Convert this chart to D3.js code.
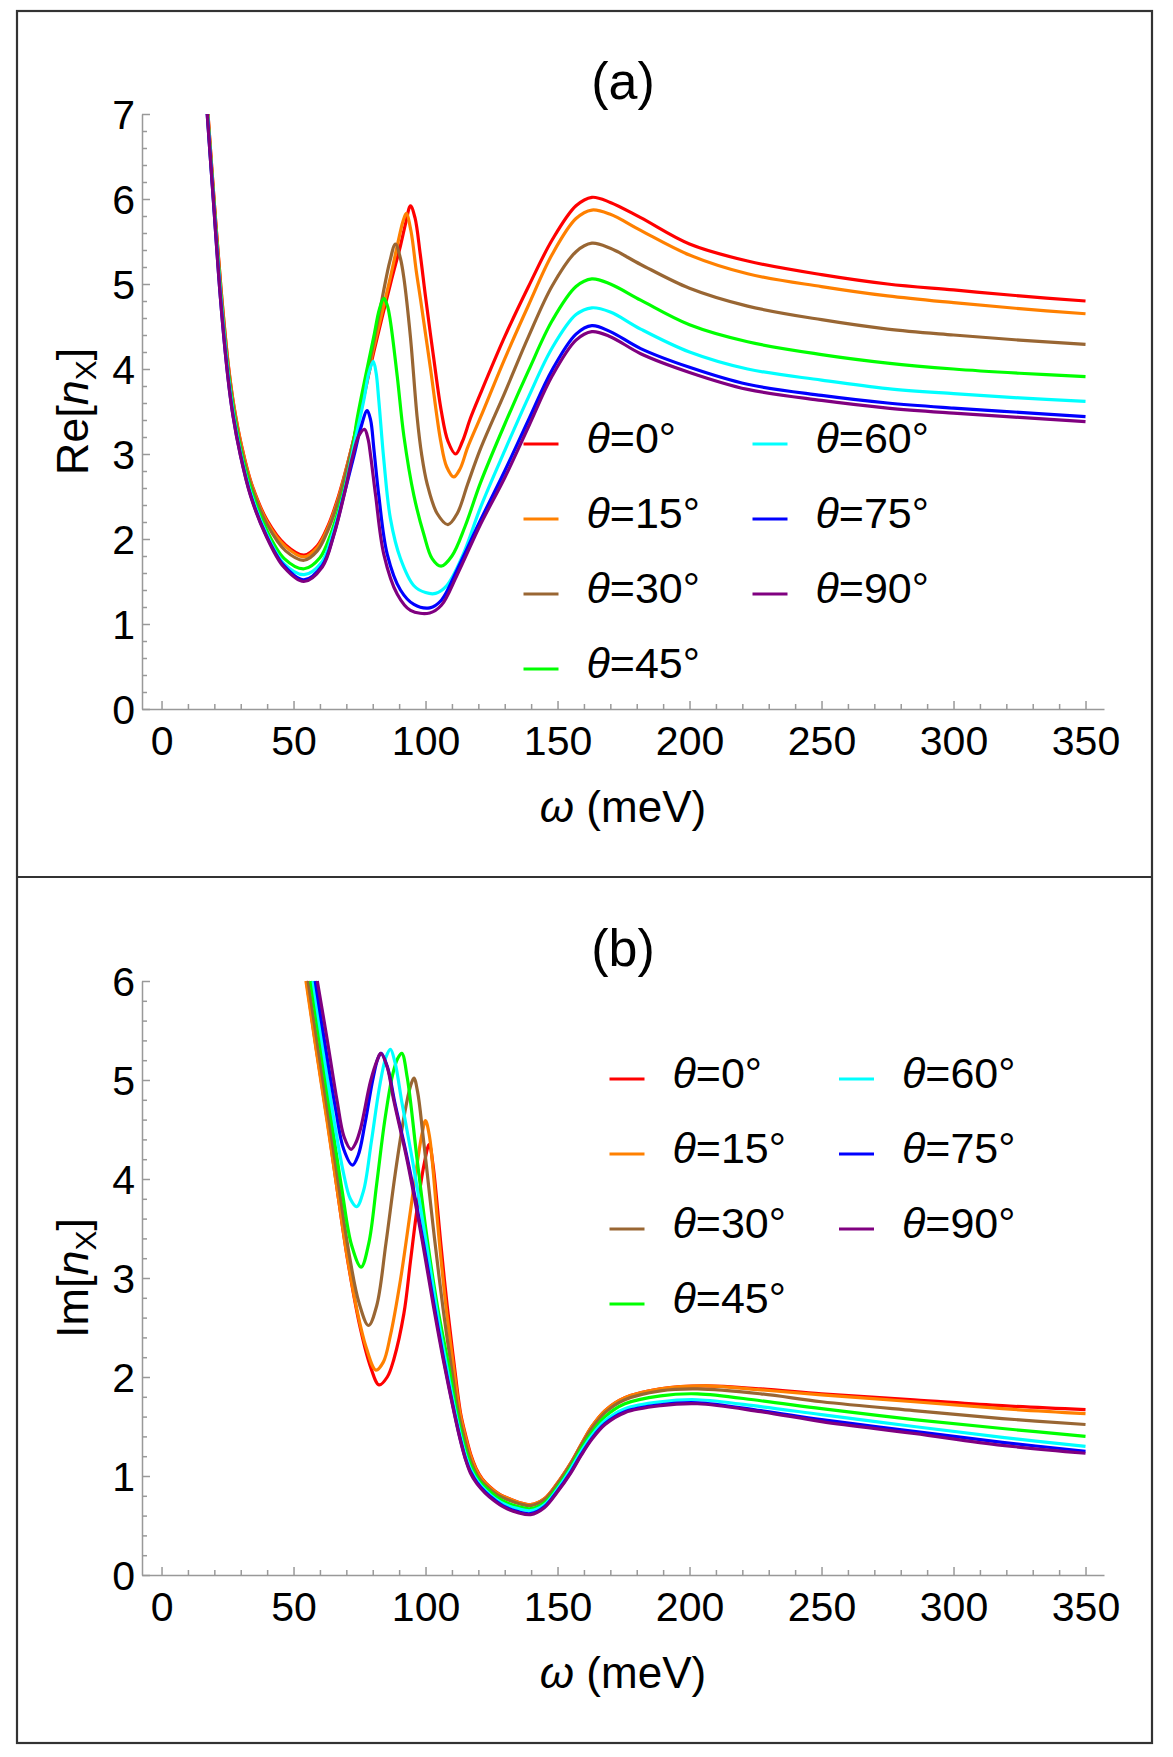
<!DOCTYPE html>
<html>
<head>
<meta charset="utf-8">
<script src="https://cdn.jsdelivr.net/npm/d3@7"></script>
<style>
  body { margin: 0; background: #fff; }
  svg text { font-family: "Liberation Sans", Arial, sans-serif; fill: #000; }
</style>
</head>
<body>
<svg id="chart" width="1173" height="1757"></svg>
<script>
// legend labels (angle θ)
const angles = ["0", "15", "30", "45", "60", "75", "90"];
const xTicks = [0, 50, 100, 150, 200, 250, 300, 350];
const reTicks = [0, 1, 2, 3, 4, 5, 6, 7];
const imTicks = [0, 1, 2, 3, 4, 5, 6];

// Re[n_X] : [ω (meV), value]
const reTheta0 = [[17.6,7],[20,5.95],[22.6,4.92],[25.4,4.02],[27.5,3.55],[30.3,3.1],[34,2.66],[40,2.22],[47,1.93],[54,1.81],[59,1.92],[63,2.15],[67,2.5],[71,2.95],[75,3.45],[80.4,4.2],[86.7,5.0],[90.5,5.45],[92.5,5.72],[94.3,5.92],[96,5.78],[98,5.35],[100,4.85],[103,4.15],[106,3.5],[108.5,3.15],[111.4,3.0],[114,3.15],[117,3.42],[120.8,3.71],[130,4.38],[139,4.97],[148,5.52],[157,5.92],[163,6.02],[170,5.96],[181.5,5.78],[200,5.47],[222,5.27],[250,5.11],[275,5.0],[300,4.93],[325,4.86],[350,4.8]];
const reTheta15 = [[17.6,7],[20,5.95],[22.6,4.91],[25.4,4.01],[27.5,3.54],[30.3,3.09],[34,2.65],[40,2.2],[47,1.91],[54,1.79],[59,1.9],[63,2.13],[67,2.48],[71,2.95],[75,3.47],[80.4,4.25],[86.7,5.08],[89.5,5.48],[91.5,5.74],[92.7,5.83],[94.5,5.62],[96.5,5.15],[98.1,4.82],[101.9,4.0],[105.7,3.16],[108,2.85],[110.7,2.73],[113,2.82],[116,3.08],[120.8,3.43],[130,4.12],[139,4.75],[148,5.35],[157,5.77],[163,5.87],[170,5.82],[181.5,5.63],[200,5.34],[222,5.12],[250,4.97],[275,4.86],[300,4.78],[325,4.71],[350,4.65]];
const reTheta30 = [[17.5,7],[19.9,5.95],[22.5,4.9],[25.3,4.0],[27.4,3.52],[30.2,3.06],[34,2.62],[40,2.17],[47,1.86],[54,1.75],[59,1.86],[63,2.1],[67,2.45],[71,2.93],[74.5,3.42],[80.4,4.32],[84,4.9],[86.5,5.27],[88.6,5.47],[90.5,5.3],[91.8,5.07],[94.3,4.37],[96.8,3.44],[98.5,3.0],[100.6,2.65],[104.4,2.3],[108.5,2.17],[112,2.3],[116,2.65],[120.8,3.06],[130,3.72],[139,4.38],[148,4.98],[157,5.38],[163,5.48],[170,5.42],[181.5,5.23],[200,4.95],[222,4.74],[250,4.58],[275,4.47],[300,4.4],[325,4.34],[350,4.29]];
const reTheta45 = [[17.4,7],[19.8,5.97],[22.4,4.88],[25.2,3.97],[27.3,3.5],[30.1,3.03],[33.9,2.58],[39.6,2.12],[46.5,1.77],[54,1.65],[60,1.78],[64,2.05],[68,2.45],[72,2.98],[74,3.4],[77.5,3.95],[80.4,4.38],[82.5,4.7],[84.2,4.83],[85.5,4.75],[86.7,4.56],[89.3,3.91],[91.8,3.21],[95.6,2.51],[99.4,2.05],[102.5,1.77],[105.9,1.68],[110,1.8],[115,2.15],[120.8,2.66],[130,3.35],[139,3.98],[148,4.57],[157,4.97],[163,5.06],[170,5.0],[181.5,4.81],[200,4.52],[222,4.32],[250,4.17],[275,4.07],[300,4.0],[325,3.95],[350,3.91]];
const reTheta60 = [[17.4,7],[19.7,5.98],[22.4,4.86],[25.2,3.94],[27.2,3.47],[30,3.0],[33.8,2.54],[39.5,2.08],[46.4,1.71],[54,1.58],[60.5,1.72],[65,2.08],[69,2.53],[72.9,3.1],[76.6,3.63],[78.5,3.95],[80.2,4.09],[81.3,3.95],[82.3,3.63],[84.2,2.93],[86.7,2.24],[90.5,1.77],[95.6,1.45],[100,1.37],[103.8,1.36],[108,1.45],[114,1.8],[120.8,2.37],[130,3.04],[139,3.67],[148,4.25],[157,4.64],[163,4.72],[170,4.67],[181.5,4.47],[200,4.2],[222,4.0],[250,3.87],[275,3.77],[300,3.71],[325,3.66],[350,3.62]];
const reTheta75 = [[17.3,7],[19.6,6.0],[22.3,4.84],[25.1,3.92],[27.1,3.45],[29.9,2.99],[33.7,2.52],[39.4,2.06],[46.3,1.69],[53.9,1.52],[60.9,1.69],[65.3,2.06],[69.1,2.52],[72.9,2.98],[75.4,3.3],[77.9,3.51],[79.2,3.4],[80.4,3.07],[82.3,2.51],[85.5,1.82],[90.5,1.4],[95.6,1.23],[101.6,1.19],[106,1.28],[112,1.64],[120.8,2.22],[130,2.8],[139,3.4],[148,3.99],[157,4.41],[163,4.51],[170,4.44],[181.5,4.24],[200,4.02],[222,3.82],[250,3.69],[275,3.6],[300,3.54],[325,3.49],[350,3.44]];
const reTheta90 = [[17.3,7],[19.6,6.0],[22.3,4.84],[25.1,3.91],[27.1,3.44],[29.9,2.98],[33.7,2.51],[39.4,2.05],[46.3,1.67],[53.9,1.5],[60.9,1.67],[65.3,2.05],[69.1,2.51],[72.2,2.95],[74.8,3.22],[76.9,3.29],[78.2,3.18],[79.2,2.98],[81.1,2.51],[84.2,1.82],[89.3,1.35],[94.3,1.16],[101.6,1.13],[106,1.22],[112,1.58],[120.8,2.17],[130,2.72],[139,3.32],[148,3.92],[157,4.34],[163,4.44],[170,4.38],[181.5,4.18],[200,3.96],[222,3.76],[250,3.63],[275,3.54],[300,3.48],[325,3.43],[350,3.38]];

// Im[n_X] : [ω (meV), value]
const imTheta0 = [[54.9,6.0],[58.7,5.3],[62.8,4.59],[66.6,3.88],[70.5,3.18],[75.4,2.48],[79.2,2.1],[82.4,1.92],[85.5,2.0],[88,2.18],[91.8,2.64],[94.3,3.17],[96.8,3.7],[99.4,4.14],[101.4,4.35],[102.8,4.15],[104.2,3.8],[105.7,3.37],[108.2,2.72],[110.7,2.16],[113.3,1.63],[115.2,1.41],[117.1,1.22],[119.1,1.08],[121.5,0.97],[124.4,0.89],[127.8,0.82],[131.8,0.77],[135.8,0.73],[139.8,0.71],[145,0.77],[150,0.93],[155,1.13],[159,1.32],[163,1.5],[168,1.66],[175.5,1.79],[189,1.88],[206,1.91],[227,1.88],[250,1.83],[285,1.77],[318.5,1.71],[350,1.67]];
const imTheta15 = [[54.7,6.0],[58.6,5.3],[62.6,4.6],[66.5,3.9],[70.3,3.22],[74,2.68],[77.5,2.3],[81.2,2.07],[84,2.15],[86.7,2.42],[90.5,2.98],[94.3,3.68],[96.8,4.15],[98.7,4.46],[100,4.59],[101.5,4.43],[103,4.05],[105.1,3.4],[107.8,2.7],[110.4,2.15],[113.1,1.63],[115,1.41],[116.9,1.22],[118.9,1.08],[121.3,0.97],[124.2,0.89],[127.6,0.82],[131.6,0.77],[135.7,0.73],[139.8,0.71],[145,0.77],[150,0.93],[155,1.13],[159,1.32],[163,1.5],[168,1.66],[175.5,1.79],[189,1.88],[206,1.91],[227,1.87],[250,1.82],[285,1.75],[318.5,1.68],[350,1.63]];
const imTheta30 = [[55.5,6.0],[59.4,5.3],[63.4,4.6],[67.3,3.9],[71.2,3.22],[74.8,2.75],[78.4,2.52],[81.5,2.72],[85,3.35],[88.5,4.05],[92,4.65],[94.2,4.93],[95.6,5.02],[97,4.88],[99,4.45],[101.5,3.85],[103.4,3.4],[106.6,2.7],[109.5,2.15],[112.5,1.63],[114.5,1.4],[116.4,1.21],[118.4,1.07],[120.8,0.96],[123.8,0.88],[127.2,0.81],[131.2,0.76],[135.5,0.72],[139.8,0.7],[145,0.76],[150,0.92],[155,1.12],[159,1.31],[163,1.48],[168,1.64],[175.5,1.77],[189,1.86],[203,1.88],[227,1.83],[250,1.75],[285,1.66],[318.5,1.58],[350,1.52]];
const imTheta45 = [[56.5,6.0],[60.3,5.32],[64.3,4.6],[68.3,3.9],[72,3.33],[75.6,3.11],[78.5,3.35],[81.5,3.95],[84.5,4.58],[87.5,5.05],[89.5,5.22],[91,5.27],[93.1,5.02],[96.8,4.2],[100.6,3.4],[104.6,2.7],[108.5,2.15],[111.9,1.63],[113.9,1.39],[115.9,1.2],[117.9,1.06],[120.4,0.95],[123.3,0.87],[126.8,0.79],[130.8,0.73],[135.3,0.69],[139.8,0.67],[145,0.73],[150,0.89],[155,1.09],[159,1.28],[163,1.44],[168,1.6],[175.5,1.73],[189,1.81],[203,1.83],[227,1.76],[250,1.68],[285,1.57],[318.5,1.48],[350,1.4]];
const imTheta60 = [[57.4,6.0],[61,5.35],[65,4.65],[69,4.05],[71.5,3.8],[73.9,3.72],[76.5,3.88],[79.5,4.38],[82.5,4.92],[85,5.23],[86.7,5.31],[88.5,5.17],[91,4.78],[95.5,4.12],[100,3.4],[104.1,2.7],[107.7,2.15],[111.4,1.63],[113.4,1.39],[115.4,1.19],[117.4,1.05],[119.9,0.94],[122.9,0.85],[126.4,0.77],[130.4,0.71],[135,0.67],[139.8,0.65],[145,0.71],[150,0.87],[155,1.07],[159,1.25],[163,1.41],[168,1.56],[175.5,1.68],[189,1.75],[203,1.77],[227,1.7],[250,1.62],[285,1.5],[318.5,1.39],[350,1.3]];
const imTheta75 = [[58.2,6.0],[62,5.35],[66,4.7],[69,4.3],[72.3,4.14],[74.5,4.24],[77,4.55],[80,5.0],[82,5.22],[83.2,5.27],[85.7,5.12],[88.3,4.78],[93.4,4.17],[98.9,3.4],[103.4,2.7],[107.1,2.15],[111,1.63],[113.1,1.38],[115.1,1.18],[117.1,1.04],[119.6,0.93],[122.6,0.84],[126.1,0.76],[130,0.69],[135,0.64],[139.8,0.62],[145,0.69],[150,0.85],[155,1.04],[159,1.22],[163,1.38],[168,1.53],[175.5,1.65],[189,1.72],[203,1.74],[227,1.66],[250,1.57],[285,1.45],[318.5,1.34],[350,1.25]];
const imTheta90 = [[59,6.0],[62.8,5.4],[66.5,4.79],[69.1,4.43],[71.8,4.3],[73.5,4.36],[75.4,4.51],[79.2,4.99],[81.7,5.2],[83,5.27],[85.5,5.13],[88,4.79],[93.1,4.18],[98.6,3.4],[103.1,2.7],[106.9,2.15],[110.9,1.63],[113,1.38],[115,1.18],[117,1.03],[119.5,0.92],[122.5,0.83],[126,0.75],[130,0.68],[135,0.63],[139.8,0.61],[145,0.68],[150,0.84],[155,1.03],[159,1.21],[163,1.37],[168,1.52],[175.5,1.64],[189,1.71],[203,1.73],[227,1.65],[250,1.55],[285,1.43],[318.5,1.31],[350,1.23]];

const reSeries = [reTheta0, reTheta15, reTheta30, reTheta45, reTheta60, reTheta75, reTheta90];
const imSeries = [imTheta0, imTheta15, imTheta30, imTheta45, imTheta60, imTheta75, imTheta90];

// Mathematica-style colours: Red, Orange, Brown, Green, Cyan, Blue, Purple
const colors = ["#ff0000", "#ff8000", "#996633", "#00ff00", "#00ffff", "#0000ff", "#800080"];

const svg = d3.select("#chart");

// outer frame + divider
svg.append("rect")
  .attr("x", 17).attr("y", 11).attr("width", 1135).attr("height", 1732)
  .attr("fill", "none").attr("stroke", "#333").attr("stroke-width", 2.2);
svg.append("line")
  .attr("x1", 17).attr("x2", 1152).attr("y1", 877).attr("y2", 877)
  .attr("stroke", "#333").attr("stroke-width", 2.2);

function drawPanel(p) {
  const x = d3.scaleLinear().domain([-7.4, 357]).range([142, 1104]);
  const y = d3.scaleLinear().domain([0, p.yMax]).range([p.bottom, p.top]);
  const g = svg.append("g");
  const axisColor = "#999";

  // x axis (ticks point inward)
  const xAx = g.append("g")
    .attr("transform", `translate(0,${p.bottom})`)
    .call(d3.axisBottom(x).tickValues(xTicks).tickSize(-8).tickSizeOuter(0).tickFormat(d3.format("d")));
  xAx.selectAll("text").attr("y", 46).attr("dy", 0);
  g.append("g")
    .attr("transform", `translate(0,${p.bottom})`)
    .call(d3.axisBottom(x).tickValues(d3.range(0, 351, 10).filter(v => v % 50)).tickSize(-5).tickSizeOuter(0).tickFormat(""))
    .select(".domain").remove();

  // y axis
  const yAx = g.append("g")
    .attr("transform", `translate(142,0)`)
    .call(d3.axisLeft(y).tickValues(p.ticks).tickSize(-8).tickSizeOuter(0).tickPadding(7).tickFormat(d3.format("d")));
  yAx.selectAll("text").attr("dy", "0.36em");
  g.append("g")
    .attr("transform", `translate(142,0)`)
    .call(d3.axisLeft(y).tickValues(d3.range(0, p.yMax + 0.01, 0.2).filter(v => Math.abs(v - Math.round(v)) > 0.01)).tickSize(-5).tickSizeOuter(0).tickFormat(""))
    .select(".domain").remove();

  g.selectAll(".domain, .tick line").attr("stroke", axisColor).attr("stroke-width", 1.5);
  [xAx, yAx].forEach(a => a.attr("font-family", null).attr("font-size", null)
    .selectAll("text").style("font-size", "41px"));

  // curves
  const clipId = "clip" + p.tag.replace(/\W/g, "");
  g.append("clipPath").attr("id", clipId)
    .append("rect").attr("x", 142).attr("y", p.top - 2).attr("width", 962).attr("height", p.bottom - p.top + 2);
  const line = d3.line().x(d => x(d[0])).y(d => y(d[1])).curve(d3.curveCatmullRom.alpha(0.5));
  g.append("g").attr("clip-path", `url(#${clipId})`)
    .selectAll("path.curve")
    .data(p.series)
    .enter().append("path")
      .attr("class", "curve")
      .attr("d", line)
      .attr("fill", "none")
      .attr("stroke", (d, i) => colors[i])
      .attr("stroke-width", 3.2)
      .attr("stroke-linejoin", "round");

  // panel tag
  g.append("text").attr("x", 623).attr("y", p.top - 15)
    .attr("text-anchor", "middle").style("font-size", "52px").text(p.tag);

  // x label
  const xl = g.append("text").attr("x", 623).attr("y", p.bottom + 113)
    .attr("text-anchor", "middle").style("font-size", "44px");
  xl.append("tspan").style("font-style", "italic").text("ω");
  xl.append("tspan").text(" (meV)");

  // y label
  const yl = g.append("text")
    .attr("transform", `translate(88,${(p.top + p.bottom) / 2}) rotate(-90)`)
    .attr("text-anchor", "middle").style("font-size", "45px");
  yl.append("tspan").text(p.yName + "[");
  yl.append("tspan").style("font-style", "italic").text("n");
  yl.append("tspan").attr("dy", 8).style("font-size", "30px").text("X");
  yl.append("tspan").attr("dy", -8).text("]");

  // legend: two columns, four rows
  angles.forEach((a, i) => {
    const col = i < 4 ? 0 : 1;
    const row = i < 4 ? i : i - 4;
    const ly = p.legY + row * 75;
    const lx = p.legX[col];
    g.append("line")
      .attr("x1", lx).attr("x2", lx + 35).attr("y1", ly).attr("y2", ly)
      .attr("stroke", colors[i]).attr("stroke-width", 3);
    const t = g.append("text").attr("x", lx + 63).attr("y", ly + 8.5).style("font-size", "43px");
    t.append("tspan").style("font-style", "italic").text("θ");
    t.append("tspan").text("=" + a + "°");
  });
}

drawPanel({ series: reSeries, yMax: 7, ticks: reTicks, top: 114, bottom: 709,
  tag: "(a)", yName: "Re", legY: 444, legX: [523.5, 752.5] });
drawPanel({ series: imSeries, yMax: 6, ticks: imTicks, top: 981, bottom: 1575,
  tag: "(b)", yName: "Im", legY: 1079, legX: [609.5, 839] });
</script>
</body>
</html>
